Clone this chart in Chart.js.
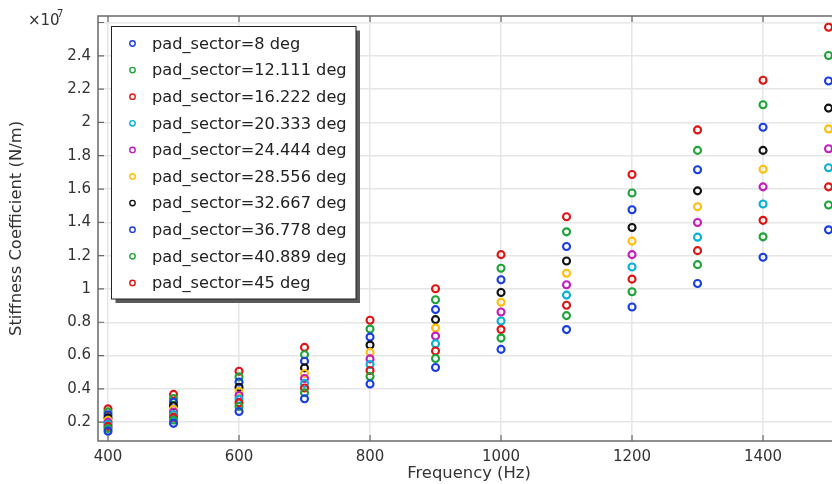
<!DOCTYPE html>
<html>
<head>
<meta charset="utf-8">
<title>Stiffness Coefficient vs Frequency</title>
<script src="https://cdn.jsdelivr.net/npm/chart.js@4/dist/chart.umd.min.js"></script>
<style>
    html, body { margin: 0; padding: 0; background: #fff; overflow: hidden; }
    #wrap { position: relative; width: 846px; height: 484px; }
</style>
</head>
<body>
<div id="wrap"><canvas id="stiffnessChart" width="846" height="484"></canvas></div>
<script>
// frequency sweep (Hz) and the pad sector angles (deg)
const frequencies = [400, 500, 600, 700, 800, 900, 1000, 1100, 1200, 1300, 1400, 1500];
const pad_sectors = ['8', '12.111', '16.222', '20.333', '24.444', '28.556', '32.667', '36.778', '40.889', '45'];

// stiffness coefficient per pad sector, in units of 1e7 N/m
const sector_8      = [0.146, 0.193, 0.264, 0.341, 0.429, 0.528, 0.637, 0.756, 0.892, 1.033, 1.190, 1.355];
const sector_12_111 = [0.162, 0.213, 0.294, 0.377, 0.474, 0.582, 0.705, 0.840, 0.983, 1.146, 1.313, 1.504];
const sector_16_222 = [0.175, 0.229, 0.316, 0.405, 0.510, 0.627, 0.756, 0.902, 1.059, 1.230, 1.412, 1.613];
const sector_20_333 = [0.187, 0.245, 0.338, 0.433, 0.546, 0.671, 0.808, 0.963, 1.132, 1.311, 1.510, 1.728];
const sector_24_444 = [0.199, 0.261, 0.360, 0.462, 0.580, 0.717, 0.862, 1.025, 1.206, 1.399, 1.613, 1.842];
const sector_28_556 = [0.212, 0.278, 0.384, 0.492, 0.619, 0.765, 0.920, 1.094, 1.287, 1.494, 1.719, 1.961];
const sector_32_667 = [0.226, 0.297, 0.410, 0.526, 0.663, 0.816, 0.979, 1.168, 1.369, 1.589, 1.832, 2.086];
const sector_36_778 = [0.245, 0.320, 0.441, 0.566, 0.711, 0.876, 1.055, 1.255, 1.476, 1.716, 1.971, 2.249];
const sector_40_889 = [0.262, 0.342, 0.472, 0.605, 0.759, 0.935, 1.124, 1.343, 1.576, 1.832, 2.106, 2.402];
const sector_45     = [0.280, 0.367, 0.506, 0.649, 0.812, 1.001, 1.206, 1.434, 1.687, 1.955, 2.253, 2.571];

const all_series = [sector_8, sector_12_111, sector_16_222, sector_20_333, sector_24_444,
    sector_28_556, sector_32_667, sector_36_778, sector_40_889, sector_45];

// marker colours, cycling like the plot software does
const series_colors = ['#1a3de0', '#1fa23a', '#dc1414', '#06b0d4', '#c21cbc',
    '#ffbe0a', '#111111', '#1a3de0', '#1fa23a', '#dc1414'];

const font_family = '"DejaVu Sans", Verdana, sans-serif',
    text_color = '#333333',
    grid_color = '#e6e6e6',
    frame_color = '#6a6a6a';

// build one scatter dataset per pad sector
const datasets = all_series.map((values, i) => ({
    label: `pad_sector=${pad_sectors[i]} deg`,
    data: frequencies.map((f, j) => ({ x: f, y: values[j] })),
    showLine: false,
    pointStyle: 'circle',
    pointRadius: 3.5,
    pointHoverRadius: 3.5,
    pointBorderWidth: 2.1,
    pointBackgroundColor: 'rgba(255,255,255,0)',
    borderColor: series_colors[i],
    backgroundColor: 'rgba(255,255,255,0)'
}));

// frame round the plot with short inward ticks, like the original tool draws
const framePlugin = {
    id: 'frame',
    afterDatasetsDraw(chart) {
        const { ctx, chartArea: a, scales } = chart;
        ctx.save();
        ctx.strokeStyle = frame_color;
        ctx.lineWidth = 1.5;
        ctx.strokeRect(a.left, a.top, a.right - a.left, a.bottom - a.top);
        ctx.lineWidth = 1.2;
        ctx.beginPath();
        scales.x.ticks.forEach(t => {
            const px = scales.x.getPixelForValue(t.value);
            ctx.moveTo(px, a.bottom); ctx.lineTo(px, a.bottom - 6);
            ctx.moveTo(px, a.top); ctx.lineTo(px, a.top + 6);
        });
        scales.y.ticks.forEach(t => {
            const py = scales.y.getPixelForValue(t.value);
            ctx.moveTo(a.left, py); ctx.lineTo(a.left + 6, py);
        });
        ctx.stroke();

        // exponent label above the y axis
        ctx.fillStyle = text_color;
        ctx.textBaseline = 'middle';
        ctx.textAlign = 'left';
        ctx.font = `15px ${font_family}`;
        ctx.fillText('×10', 28, 21);
        ctx.font = `10px ${font_family}`;
        ctx.fillText('7', 57, 14);
        ctx.restore();
    }
};

// boxed legend with drop shadow inside the plot
const legendBoxPlugin = {
    id: 'legendBox',
    afterDraw(chart) {
        const ctx = chart.ctx;
        const box = { x: 111.5, y: 26.5, w: 244.5, h: 272.5 };
        ctx.save();
        ctx.fillStyle = '#5a5a5a';
        ctx.fillRect(box.x + 4, box.y + 4, box.w, box.h);
        ctx.fillStyle = '#ffffff';
        ctx.fillRect(box.x, box.y, box.w, box.h);
        ctx.strokeStyle = '#222222';
        ctx.lineWidth = 1;
        ctx.strokeRect(box.x, box.y, box.w, box.h);

        ctx.font = `16.2px ${font_family}`;
        ctx.textBaseline = 'middle';
        ctx.textAlign = 'left';
        chart.data.datasets.forEach((ds, i) => {
            const rowY = 43.5 + i * 26.6;
            ctx.beginPath();
            ctx.arc(132.5, rowY, 2.7, 0, Math.PI * 2);
            ctx.strokeStyle = ds.borderColor;
            ctx.lineWidth = 1.4;
            ctx.stroke();
            ctx.fillStyle = '#222222';
            ctx.fillText(ds.label, 152, rowY + 1);
        });
        ctx.restore();
    }
};

const ctx = document.getElementById('stiffnessChart').getContext('2d');

new Chart(ctx, {
    type: 'scatter',
    data: { datasets: datasets },
    options: {
        responsive: false,
        animation: false,
        devicePixelRatio: 1,
        layout: { padding: { left: 0, right: 6, top: 13, bottom: 0 } },
        plugins: {
            legend: { display: false },
            tooltip: { enabled: false }
        },
        scales: {
            x: {
                type: 'linear',
                min: 384.7,
                max: 1517.5,
                afterFit: (axis) => { axis.height = 43; },
                border: { display: false },
                grid: { color: grid_color, lineWidth: 1.5, drawTicks: false },
                ticks: {
                    stepSize: 200,
                    includeBounds: false,
                    padding: 7,
                    maxRotation: 0,
                    color: text_color,
                    font: { family: font_family, size: 15 },
                    callback: (v) => String(v)
                },
                title: {
                    display: true,
                    text: 'Frequency (Hz)',
                    color: text_color,
                    font: { family: font_family, size: 16.4 },
                    padding: { top: 0, bottom: 0 }
                }
            },
            y: {
                type: 'linear',
                min: 0.087,
                max: 2.639,
                afterFit: (axis) => { axis.width = 98; },
                border: { display: false },
                grid: { color: grid_color, lineWidth: 1.5, drawTicks: false },
                ticks: {
                    stepSize: 0.2,
                    includeBounds: false,
                    padding: 7,
                    color: text_color,
                    font: { family: font_family, size: 15 },
                    // the top gridline carries no label, the exponent sits there
                    callback: (v) => (v > 2.5 ? '' : String(Number(v.toFixed(1))))
                },
                title: {
                    display: true,
                    text: 'Stiffness Coefficient (N/m)',
                    color: text_color,
                    font: { family: font_family, size: 16.4 },
                    padding: { top: 7, bottom: 0 }
                }
            }
        }
    },
    plugins: [framePlugin, legendBoxPlugin]
});
</script>
</body>
</html>
